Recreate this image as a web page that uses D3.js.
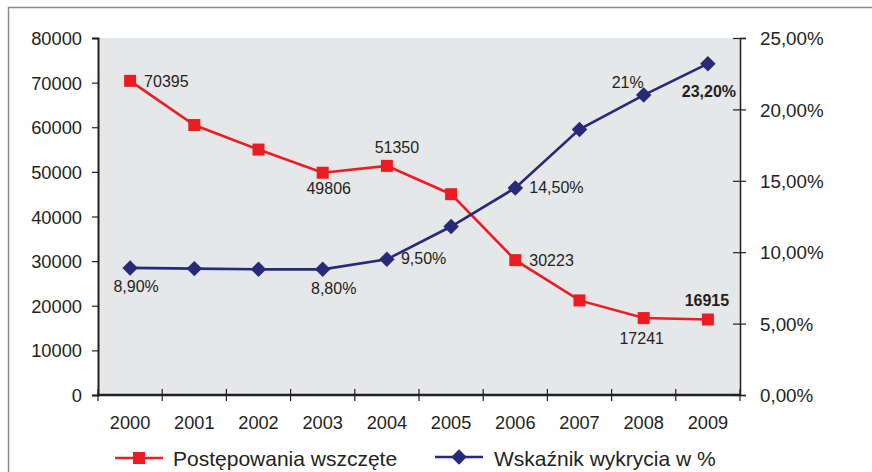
<!DOCTYPE html>
<html lang="pl">
<head>
    <meta charset="UTF-8">
    <title>Postępowania wszczęte i wskaźnik wykrycia</title>
    <script src="https://cdn.jsdelivr.net/npm/d3@7"></script>
    <style>
        body {
            margin: 0;
            background: #fff;
            font-family: "Liberation Sans", Arial, sans-serif;
        }
        svg text {
            fill: #231f20;
        }
    </style>
</head>
<body>
    <svg id="chart" width="872" height="472"></svg>

    <script>
        // data
        const years = ["2000", "2001", "2002", "2003", "2004", "2005", "2006", "2007", "2008", "2009"];
        const cases = [70395, 60500, 55000, 49806, 51350, 45000, 30223, 21200, 17241, 16915];
        const detection = [8.9, 8.85, 8.8, 8.8, 9.5, 11.8, 14.5, 18.6, 21, 23.2];
        const caseLabels = ["70395", null, null, "49806", "51350", null, "30223", null, "17241", "16915"];
        const detectionLabels = ["8,90%", null, null, "8,80%", "9,50%", null, "14,50%", null, "21%", "23,20%"];
        const leftTicks = [0, 10000, 20000, 30000, 40000, 50000, 60000, 70000, 80000];
        const rightTicks = [0, 5, 10, 15, 20, 25];
        const seriesNames = ["Postępowania wszczęte", "Wskaźnik wykrycia w %"];

        const red = "#ed1c24";
        const navy = "#262a78";
        const ink = "#231f20";
        const diamondArea = 120;

        const svg = d3.select("#chart");
        const plot = { left: 98, right: 740, top: 38, bottom: 395 };

        // outer frame (runs off the right and bottom edges)
        svg.append("path")
            .attr("d", "M8.5,480 V7.5 H880")
            .attr("fill", "none")
            .attr("stroke", "#8a8a8a")
            .attr("stroke-width", 1.5);

        svg.append("rect")
            .attr("x", plot.left)
            .attr("y", plot.top)
            .attr("width", plot.right - plot.left)
            .attr("height", plot.bottom - plot.top)
            .attr("fill", "#e6e7e8");

        const x = d3.scaleBand().domain(years).range([plot.left, plot.right]);
        const yL = d3.scaleLinear().domain([0, 80000]).range([plot.bottom, plot.top]);
        const yR = d3.scaleLinear().domain([0, 25]).range([plot.bottom, plot.top]);
        const cx = d => x(d) + x.bandwidth() / 2;

        // left axis
        const gL = svg.append("g")
            .attr("transform", `translate(${plot.left},0)`)
            .call(d3.axisLeft(yL).tickValues(leftTicks).tickFormat(d3.format("d")).tickSize(6).tickPadding(10));
        gL.select(".domain").attr("stroke", ink).attr("stroke-width", 2);
        gL.selectAll(".tick line").attr("stroke", ink).attr("stroke-width", 1.2);
        gL.selectAll("text").attr("font-size", 18.3).attr("dy", "0.36em")
            .attr("font-family", "Liberation Sans, Arial, sans-serif").style("fill", ink);

        // right axis
        const gR = svg.append("g")
            .attr("transform", `translate(${plot.right},0)`)
            .call(d3.axisRight(yR).tickValues(rightTicks)
                .tickFormat(d => d3.format(".2f")(d).replace(".", ",") + "%")
                .tickSize(6).tickPadding(14));
        gR.select(".domain").attr("stroke", ink).attr("stroke-width", 1.5);
        gR.selectAll(".tick line").attr("x1", -7).attr("x2", 6).attr("stroke", ink).attr("stroke-width", 1.2);
        gR.selectAll("text").attr("font-size", 18.8).attr("dy", "0.36em")
            .attr("font-family", "Liberation Sans, Arial, sans-serif").style("fill", ink);

        // bottom axis: ticks sit between the categories
        svg.append("line")
            .attr("x1", plot.left - 1).attr("x2", plot.right)
            .attr("y1", plot.bottom).attr("y2", plot.bottom)
            .attr("stroke", ink).attr("stroke-width", 2.5);
        const bounds = years.map(d => x(d)).concat([x(years[years.length - 1]) + x.bandwidth()]);
        svg.append("g").selectAll("line")
            .data(bounds)
            .join("line")
            .attr("x1", d => d).attr("x2", d => d)
            .attr("y1", plot.bottom - 6).attr("y2", plot.bottom + 6)
            .attr("stroke", ink).attr("stroke-width", 1.2);
        svg.append("g").selectAll("text")
            .data(years)
            .join("text")
            .attr("x", cx)
            .attr("y", 429)
            .attr("text-anchor", "middle")
            .attr("font-size", 18.2)
            .text(d => d);

        // red series
        const redLine = d3.line().x((d, i) => cx(years[i])).y(d => yL(d));
        svg.append("path")
            .attr("d", redLine(cases))
            .attr("fill", "none")
            .attr("stroke", red)
            .attr("stroke-width", 2.6);

        // navy series
        const navyLine = d3.line().x((d, i) => cx(years[i])).y(d => yR(d));
        svg.append("path")
            .attr("d", navyLine(detection))
            .attr("fill", "none")
            .attr("stroke", navy)
            .attr("stroke-width", 2.6);

        svg.append("g").selectAll("path")
            .data(detection)
            .join("path")
            .attr("d", d3.symbol(d3.symbolSquare, diamondArea))
            .attr("transform", (d, i) => `translate(${cx(years[i])},${yR(d)}) rotate(45)`)
            .attr("fill", navy);

        svg.append("g").selectAll("rect")
            .data(cases)
            .join("rect")
            .attr("x", (d, i) => cx(years[i]) - 6)
            .attr("y", d => yL(d) - 6)
            .attr("width", 12)
            .attr("height", 12)
            .attr("fill", red);

        // value labels, offsets relative to the point: [dx, dy, anchor, bold]
        const caseOffsets = [[14, 6, "start"], null, null, [6, 21, "middle"], [10, -13, "middle"], null,
            [14, 6, "start"], null, [-2, 26, "middle"], [-1, -14, "middle", true]];
        const detOffsets = [[6, 24, "middle"], null, null, [11, 25, "middle"], [14, 5, "start"], null,
            [14, 5, "start"], null, [-16, -7, "middle"], [1, 33, "middle", true]];

        function addLabels(values, labels, offsets, scale) {
            svg.append("g").selectAll("text")
                .data(values.map((v, i) => ({ v, i })).filter(d => labels[d.i]))
                .join("text")
                .attr("x", d => cx(years[d.i]) + offsets[d.i][0])
                .attr("y", d => scale(d.v) + offsets[d.i][1])
                .attr("text-anchor", d => offsets[d.i][2])
                .attr("font-size", 16)
                .attr("font-weight", d => offsets[d.i][3] ? "bold" : "normal")
                .text(d => labels[d.i]);
        }
        addLabels(cases, caseLabels, caseOffsets, yL);
        addLabels(detection, detectionLabels, detOffsets, yR);

        // legend
        const legend = svg.append("g");
        const legendItems = [
            { name: seriesNames[0], x1: 115, x2: 163, y: 458, color: red, shape: "square", tx: 173 },
            { name: seriesNames[1], x1: 435, x2: 483, y: 457, color: navy, shape: "diamond", tx: 494 }
        ];
        legendItems.forEach(it => {
            legend.append("line")
                .attr("x1", it.x1).attr("x2", it.x2)
                .attr("y1", it.y).attr("y2", it.y)
                .attr("stroke", it.color).attr("stroke-width", 2.6);
            const mx = (it.x1 + it.x2) / 2;
            if (it.shape === "square") {
                legend.append("rect")
                    .attr("x", mx - 6).attr("y", it.y - 6)
                    .attr("width", 12).attr("height", 12)
                    .attr("fill", it.color);
            } else {
                legend.append("path")
                    .attr("d", d3.symbol(d3.symbolSquare, diamondArea))
                    .attr("transform", `translate(${mx},${it.y}) rotate(45)`)
                    .attr("fill", it.color);
            }
            legend.append("text")
                .attr("x", it.tx)
                .attr("y", 466)
                .attr("font-size", 21)
                .text(it.name);
        });
    </script>
</body>
</html>
